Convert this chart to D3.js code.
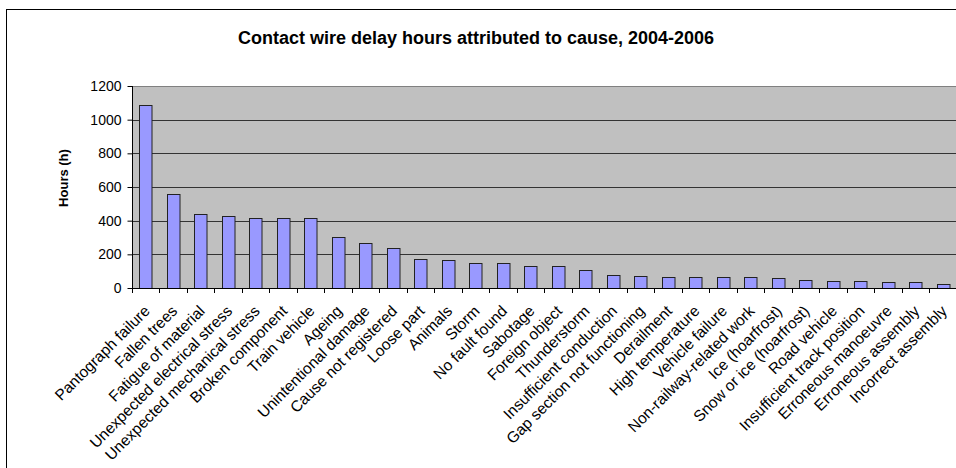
<!DOCTYPE html>
<html>
<head>
<meta charset="utf-8">
<script src="https://cdn.jsdelivr.net/npm/d3@7.9.0/dist/d3.min.js"></script>
<style>
  body { margin: 0; background: #fff; }
  svg { display: block; font-family: Arial, 'Liberation Sans', sans-serif; }
</style>
</head>
<body>
<svg width="956" height="468"></svg>
<script>
const causes = [
  'Pantograph failure', 'Fallen trees', 'Fatigue of material', 'Unexpected electrical stress',
  'Unexpected mechanical stress', 'Broken component', 'Train vehicle', 'Ageing',
  'Unintentional damage', 'Cause not registered', 'Loose part', 'Animals', 'Storm',
  'No fault found', 'Sabotage', 'Foreign object', 'Thunderstorm', 'Insufficient conduction',
  'Gap section not functioning', 'Derailment', 'High temperature', 'Vehicle failure',
  'Non-railway-related work', 'Ice (hoarfrost)', 'Snow or ice (hoarfrost)', 'Road vehicle',
  'Insufficient track position', 'Erroneous manoeuvre', 'Erroneous assembly', 'Incorrect assembly'
];
const hours = [
  1090, 560, 438, 428, 416, 416, 416, 301, 265, 236,
  172, 166, 150, 150, 132, 132, 109, 75, 69, 63,
  63, 63, 63, 58, 46, 40, 40, 34, 34, 22
];
const yTicks = [0, 200, 400, 600, 800, 1000, 1200];

const svg = d3.select('svg');
const plotLeft = 132, plotTop = 86, plotBottom = 288, bandW = 27.49;
const plotRight = plotLeft + bandW * causes.length;

// chart frame (cut off at right and bottom like the original)
svg.append('rect')
  .attr('x', 6.5).attr('y', 9.5)
  .attr('width', 1000).attr('height', 500)
  .attr('fill', '#fff').attr('stroke', '#000');

svg.append('text')
  .attr('x', 476).attr('y', 44)
  .attr('text-anchor', 'middle')
  .attr('font-size', 18).attr('font-weight', 'bold')
  .text('Contact wire delay hours attributed to cause, 2004-2006');

const x = d3.scaleBand().domain(causes).range([plotLeft, plotRight]);
const y = d3.scaleLinear().domain([0, 1200]).range([plotBottom, plotTop]);

svg.append('rect')
  .attr('x', plotLeft).attr('y', plotTop)
  .attr('width', plotRight - plotLeft).attr('height', plotBottom - plotTop)
  .attr('fill', '#c0c0c0');

// gridlines
svg.append('g')
  .selectAll('line')
  .data(yTicks.slice(1))
  .join('line')
  .attr('x1', plotLeft).attr('x2', plotRight)
  .attr('y1', (d) => Math.round(y(d)) + 0.5)
  .attr('y2', (d) => Math.round(y(d)) + 0.5)
  .attr('stroke', (d) => (d === 1200 ? '#808080' : '#333'));

// bars
const barW = 12.5;
svg.append('g')
  .selectAll('rect')
  .data(hours)
  .join('rect')
  .attr('x', (d, i) => Math.round(x(causes[i]) + x.bandwidth() / 2 - barW / 2) + 0.5)
  .attr('y', (d) => Math.round(y(d)) + 0.5)
  .attr('width', barW)
  .attr('height', (d) => plotBottom - Math.round(y(d)))
  .attr('fill', '#9999ff')
  .attr('stroke', '#222');

// y axis
const yAxis = svg.append('g')
  .attr('transform', `translate(${plotLeft + 0.5},0)`)
  .call(d3.axisLeft(y).tickValues(yTicks).tickSize(5).tickPadding(6).tickFormat(d3.format('d')));
yAxis.select('.domain').attr('d', `M0,${plotTop}V${plotBottom}`).attr('stroke', '#000');
yAxis.selectAll('text').attr('font-size', 14).attr('font-family', 'Arial, Liberation Sans, sans-serif').attr('fill', '#000');

svg.append('text')
  .attr('transform', `translate(68,178) rotate(-90)`)
  .attr('text-anchor', 'middle')
  .attr('font-size', 13).attr('font-weight', 'bold')
  .text('Hours (h)');

// x axis
const xAxisG = svg.append('g');
xAxisG.append('line')
  .attr('x1', plotLeft).attr('x2', plotRight)
  .attr('y1', plotBottom + 0.5).attr('y2', plotBottom + 0.5)
  .attr('stroke', '#000');
xAxisG.selectAll('line.tick')
  .data(d3.range(causes.length + 1))
  .join('line')
  .attr('class', 'tick')
  .attr('x1', (d) => Math.round(plotLeft + d * x.step()) + 0.5)
  .attr('x2', (d) => Math.round(plotLeft + d * x.step()) + 0.5)
  .attr('y1', plotBottom).attr('y2', plotBottom + 5)
  .attr('stroke', '#000');

xAxisG.selectAll('text')
  .data(causes)
  .join('text')
  .attr('transform', (d) => `translate(${x(d) + x.bandwidth() / 2 + 5},312) rotate(-45)`)
  .attr('text-anchor', 'end')
  .attr('font-size', 15.5)
  .text((d) => d);
</script>
</body>
</html>
